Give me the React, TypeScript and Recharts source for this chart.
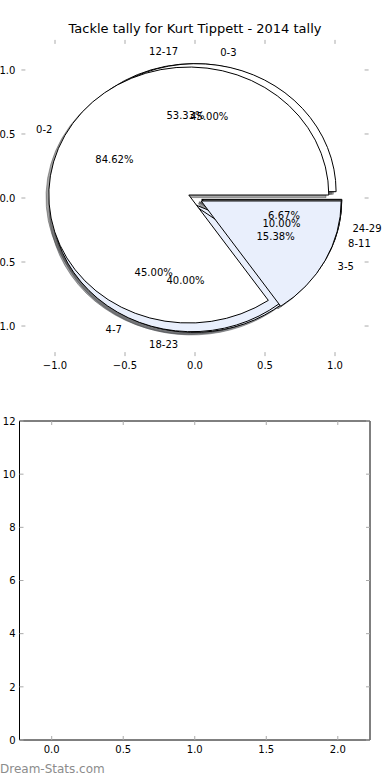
import React from 'react';
import { PieChart, Pie, Cell, ComposedChart, XAxis, YAxis, Scatter } from 'recharts';

// ---------- data ----------
const TITLE = 'Tackle tally for Kurt Tippett - 2014 tally';
const WATERMARK = 'Dream-Stats.com';

const pie1Labels = ['0-2', '3-5'];
const pie1Values = [11, 2];
const pie2Labels = ['0-3', '4-7', '8-11'];
const pie2Values = [9, 9, 2];
const pie3Labels = ['12-17', '18-23', '24-29'];
const pie3Values = [8, 6, 1];

const pieAxisTicks = [-1, -0.5, 0, 0.5, 1];
const barXTicks = [0, 0.5, 1, 1.5, 2];
const barYTicks = [0, 2, 4, 6, 8, 10, 12];
const emptySeries: { x: number; y: number }[] = [];

// ---------- styles ----------
const FONT = "'DejaVu Sans', 'Liberation Sans', sans-serif";
const WHITE = '#ffffff';
const BLUE = '#e9effc';
const sliceColors = [WHITE, BLUE, WHITE];
const shadowColors = ['rgb(77,77,77)', 'rgb(70,72,76)', 'rgb(77,77,77)'];
const TICK = '#aaaaaa';

const CX = 195;
const CY = 198;
const R = 140;
const KY = 128 / 140;
const EXPLODE = 0.05;
const SHADOW = 0.02;

type Slice = { name: string; value: number };
const toData = (labels: string[], values: number[]): Slice[] =>
  labels.map((name, i) => ({ name, value: values[i] }));

// bottom -> top drawing order
const pies: Slice[][] = [
  toData(pie3Labels, pie3Values),
  toData(pie2Labels, pie2Values),
  toData(pie1Labels, pie1Values),
];

const midAngles = (data: Slice[]) => {
  const total = data.reduce((s, d) => s + d.value, 0);
  let cum = 0;
  return data.map((d) => {
    const m = (360 * (cum + d.value / 2)) / total;
    cum += d.value;
    return m;
  });
};

const rad = (deg: number) => (deg * Math.PI) / 180;

const fmtAxis = (v: number) => {
  const s = Math.abs(v).toFixed(1);
  return v < 0 ? '\u2212' + s : s;
};
const fmtInt = (v: number) => String(v);

// ---------- ticks ----------
const makeBottomTick = (fmt: (v: number) => string) => (props: any) => {
  const { x, y, payload } = props;
  return (
    <g>
      <line x1={x} x2={x} y1={y} y2={y - 4} stroke={TICK} strokeWidth={1} />
      <text x={x} y={y + 12.5} textAnchor="middle" fontSize={10} fontFamily={FONT} fill="#000">
        {fmt(payload.value)}
      </text>
    </g>
  );
};
const TopTick = (props: any) => {
  const { x, y } = props;
  return <line x1={x} x2={x} y1={y} y2={y + 4} stroke={TICK} strokeWidth={1} />;
};
const makeLeftTick = (fmt: (v: number) => string, gap: number) => (props: any) => {
  const { x, y, payload } = props;
  return (
    <g>
      <line x1={x} x2={x + 4} y1={y} y2={y} stroke={TICK} strokeWidth={1} />
      <text x={x - gap} y={y + 3.7} textAnchor="end" fontSize={10} fontFamily={FONT} fill="#000">
        {fmt(payload.value)}
      </text>
    </g>
  );
};
const RightTick = (props: any) => {
  const { x, y } = props;
  return <line x1={x} x2={x - 4} y1={y} y2={y} stroke={TICK} strokeWidth={1} />;
};

// ---------- pie label ----------
const renderPieLabel = (props: any) => {
  const { midAngle, percent, name } = props;
  const c = Math.cos(rad(midAngle));
  const s = Math.sin(rad(midAngle));
  const lx = CX + (EXPLODE + 1.1) * R * c;
  const ly = CY - (EXPLODE + 1.1) * R * s * KY;
  const px = CX + (EXPLODE + 0.6) * R * c;
  const py = CY - (EXPLODE + 0.6) * R * s * KY;
  return (
    <g>
      <text x={lx} y={ly + 3.7} textAnchor={c > 0 ? 'start' : 'end'} fontSize={10} fontFamily={FONT} fill="#000">
        {name}
      </text>
      <text x={px} y={py + 3.7} textAnchor="middle" fontSize={10} fontFamily={FONT} fill="#000">
        {(percent * 100).toFixed(2) + '%'}
      </text>
    </g>
  );
};

type AxesProps = {
  plot: { left: number; right: number; top: number; bottom: number };
  xDomain: [number, number];
  yDomain: [number, number];
  xTicks: number[];
  yTicks: number[];
  xFmt: (v: number) => string;
  yFmt: (v: number) => string;
  yGap: number;
  frame: boolean;
};

// axes occupy 1px each (Recharts skips zero-size axes); margins compensate
const Axes = ({ plot, xDomain, yDomain, xTicks, yTicks, xFmt, yFmt, yGap, frame }: AxesProps) => {
  const line = frame ? { stroke: '#000', strokeWidth: 1 } : false;
  const margin = {
    top: plot.top - 1,
    bottom: 390 - plot.bottom - 1,
    left: plot.left - 1,
    right: 390 - plot.right - 1,
  };
  return (
    <ComposedChart width={390} height={390} margin={margin}>
      <XAxis
        xAxisId="b"
        type="number"
        dataKey="x"
        domain={xDomain}
        ticks={xTicks}
        interval={0}
        height={1}
        axisLine={line}
        tickLine={false}
        tickSize={0}
        tickMargin={0}
        tick={makeBottomTick(xFmt)}
        allowDataOverflow
      />
      <XAxis
        xAxisId="t"
        orientation="top"
        type="number"
        dataKey="x"
        domain={xDomain}
        ticks={xTicks}
        interval={0}
        height={1}
        axisLine={line}
        tickLine={false}
        tickSize={0}
        tickMargin={0}
        tick={TopTick}
        allowDataOverflow
      />
      <YAxis
        yAxisId="l"
        type="number"
        dataKey="y"
        domain={yDomain}
        ticks={yTicks}
        interval={0}
        width={1}
        axisLine={line}
        tickLine={false}
        tickSize={0}
        tickMargin={0}
        tick={makeLeftTick(yFmt, yGap)}
        allowDataOverflow
      />
      <YAxis
        yAxisId="r"
        orientation="right"
        type="number"
        dataKey="y"
        domain={yDomain}
        ticks={yTicks}
        interval={0}
        width={1}
        axisLine={line}
        tickLine={false}
        tickSize={0}
        tickMargin={0}
        tick={RightTick}
        allowDataOverflow
      />
      <Scatter xAxisId="b" yAxisId="l" data={emptySeries} dataKey="y" isAnimationActive={false} />
      <Scatter xAxisId="t" yAxisId="r" data={emptySeries} dataKey="y" isAnimationActive={false} />
    </ComposedChart>
  );
};

export default function App() {
  const shadowPies: React.ReactNode[] = [];
  const wedgePies: React.ReactNode[] = [];
  const labelPies: React.ReactNode[] = [];

  pies.forEach((data, p) => {
    const mids = midAngles(data);
    data.forEach((_, i) => {
      const dx = EXPLODE * R * Math.cos(rad(mids[i]));
      const dy = -EXPLODE * R * Math.sin(rad(mids[i]));
      shadowPies.push(
        <Pie
          key={`s-${p}-${i}`}
          data={data}
          dataKey="value"
          nameKey="name"
          cx={CX + dx - SHADOW * R}
          cy={CY + dy + SHADOW * R}
          outerRadius={R}
          startAngle={0}
          endAngle={360}
          isAnimationActive={false}
          labelLine={false}
          label={false}
        >
          {data.map((__, j) => (
            <Cell
              key={j}
              fill={j === i ? shadowColors[j] : 'none'}
              fillOpacity={0.5}
              stroke={j === i ? shadowColors[j] : 'none'}
              strokeOpacity={0.5}
              strokeWidth={1}
            />
          ))}
        </Pie>
      );
      wedgePies.push(
        <Pie
          key={`w-${p}-${i}`}
          data={data}
          dataKey="value"
          nameKey="name"
          cx={CX + dx}
          cy={CY + dy}
          outerRadius={R}
          startAngle={0}
          endAngle={360}
          isAnimationActive={false}
          labelLine={false}
          label={false}
        >
          {data.map((__, j) => (
            <Cell
              key={j}
              fill={j === i ? sliceColors[j] : 'none'}
              stroke={j === i ? '#000' : 'none'}
              strokeWidth={1}
            />
          ))}
        </Pie>
      );
    });
    labelPies.push(
      <Pie
        key={`l-${p}`}
        data={data}
        dataKey="value"
        nameKey="name"
        cx={CX}
        cy={CY}
        outerRadius={R}
        startAngle={0}
        endAngle={360}
        fill="none"
        stroke="none"
        isAnimationActive={false}
        labelLine={false}
        label={renderPieLabel}
      />
    );
  });

  return (
    <div style={{ position: 'absolute', left: 0, top: 0, width: 390, height: 780, background: '#fff', fontFamily: FONT }}>
      <style>{`
        .pie-area path.recharts-sector {
          transform: scale(1, ${KY});
          transform-origin: ${CX}px ${CY}px;
          vector-effect: non-scaling-stroke;
        }
      `}</style>

      {/* title */}
      <div
        style={{
          position: 'absolute',
          left: 0,
          top: 21,
          width: 390,
          textAlign: 'center',
          fontSize: 13,
          lineHeight: '16px',
          color: '#000',
          fontFamily: FONT,
          whiteSpace: 'nowrap',
        }}
      >
        {TITLE}
      </div>

      {/* pie axes (ticks only) */}
      <div style={{ position: 'absolute', left: 0, top: 0 }}>
        <Axes
          plot={{ left: 21.4, right: 368.6, top: 39.9, bottom: 356.1 }}
          xDomain={[-1.24, 1.24]}
          yDomain={[-1.235, 1.235]}
          xTicks={pieAxisTicks}
          yTicks={pieAxisTicks}
          xFmt={fmtAxis}
          yFmt={fmtAxis}
          yGap={6}
          frame={false}
        />
      </div>

      {/* pies */}
      <div className="pie-area" style={{ position: 'absolute', left: 0, top: 0 }}>
        <PieChart width={390} height={390} margin={{ top: 0, bottom: 0, left: 0, right: 0 }}>
          {shadowPies}
          {wedgePies}
          {labelPies}
        </PieChart>
      </div>

      {/* empty bottom axes */}
      <div style={{ position: 'absolute', left: 0, top: 390 }}>
        <Axes
          plot={{ left: 19.5, right: 370, top: 31, bottom: 350 }}
          xDomain={[-0.225, 2.225]}
          yDomain={[0, 12]}
          xTicks={barXTicks}
          yTicks={barYTicks}
          xFmt={fmtAxis}
          yFmt={fmtInt}
          yGap={4}
          frame={true}
        />
      </div>

      {/* watermark */}
      <div
        style={{
          position: 'absolute',
          left: 0,
          top: 762,
          fontSize: 12,
          lineHeight: '14px',
          color: '#8c8c8c',
          fontFamily: FONT,
          whiteSpace: 'nowrap',
        }}
      >
        {WATERMARK}
      </div>
    </div>
  );
}
